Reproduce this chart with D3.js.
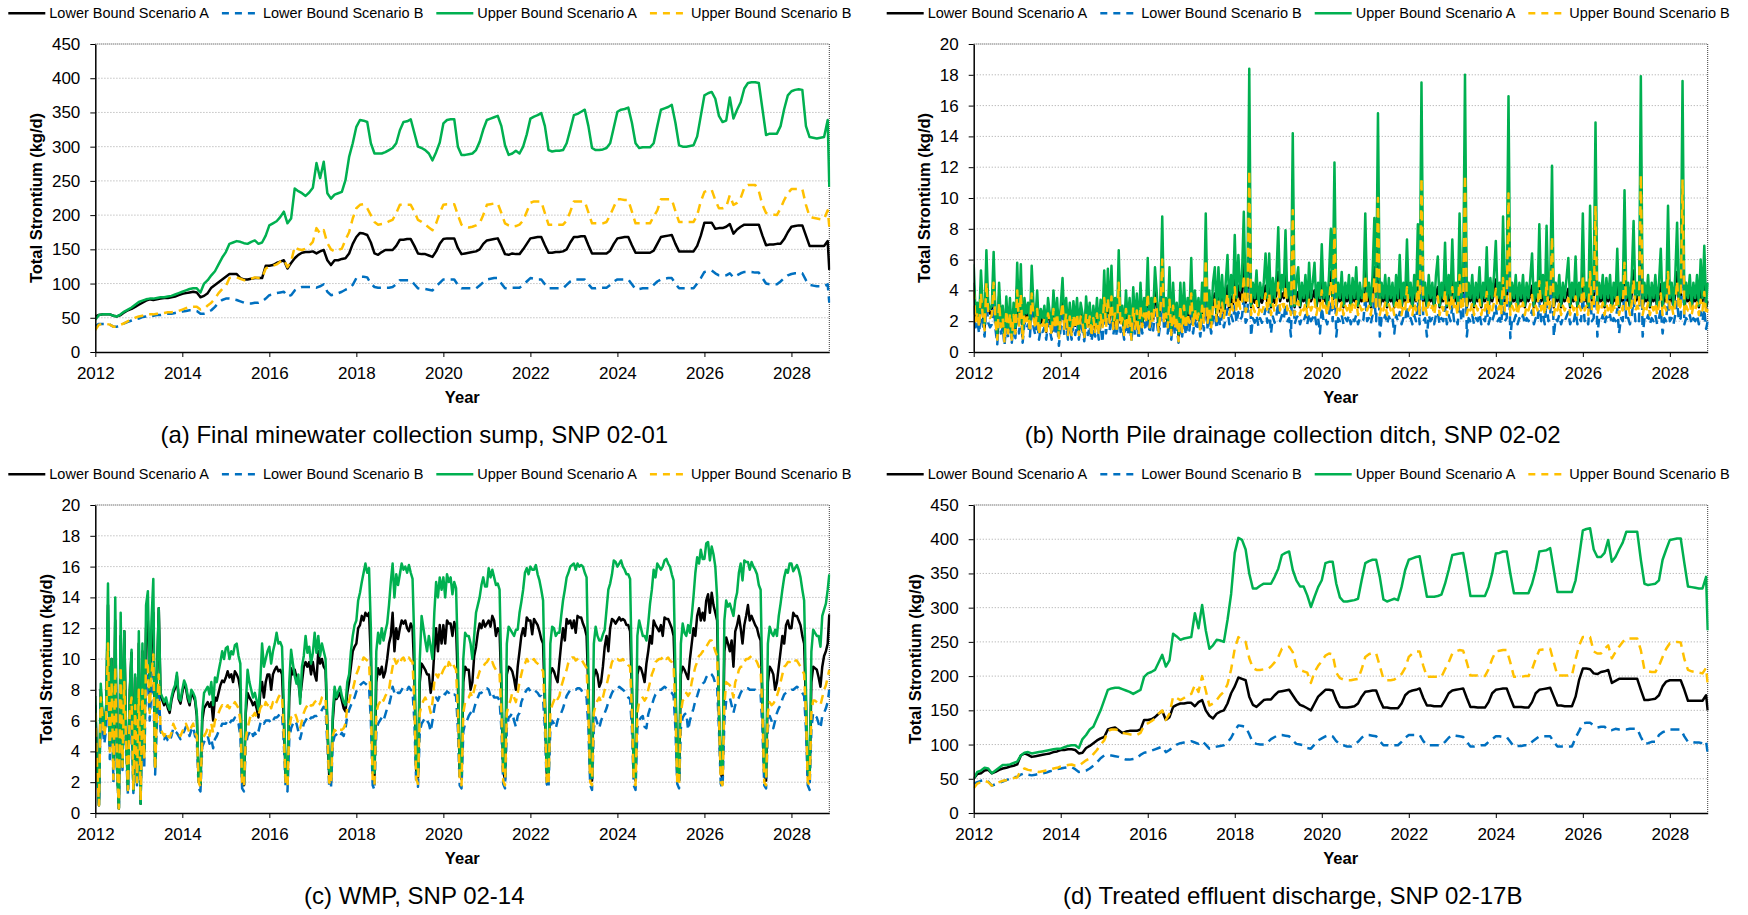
<!DOCTYPE html>
<html>
<head>
<meta charset="utf-8">
<script src="https://cdn.jsdelivr.net/npm/d3@7"></script>
<style>
  body { margin: 0; background: #ffffff; }
  svg { display: block; font-family: "Liberation Sans", Arial, Helvetica, sans-serif; }
</style>
</head>
<body>
<svg id="fig" width="1748" height="915"></svg>
<script>
// ---------------------------------------------------------------
// Series definitions (shared by all four panels)
// ---------------------------------------------------------------
const seriesNames  = ["Lower Bound Scenario A", "Lower Bound Scenario B", "Upper Bound Scenario A", "Upper Bound Scenario B"];
const seriesColors = ["#000000", "#0070C0", "#00B050", "#FFC000"];
const seriesDashed = [false, true, false, true];

const yearTicks  = [2012, 2014, 2016, 2018, 2020, 2022, 2024, 2026, 2028];
const loadTicks  = [0, 50, 100, 150, 200, 250, 300, 350, 400, 450];
const smallTicks = [0, 2, 4, 6, 8, 10, 12, 14, 16, 18, 20];
const yearStart = 2012;
const yearEnd = 2028.87;

const captions = [
  "(a) Final minewater collection sump, SNP 02-01",
  "(b) North Pile drainage collection ditch, SNP 02-02",
  "(c) WMP, SNP 02-14",
  "(d) Treated effluent discharge, SNP 02-17B"
];
const yTitle = "Total Strontium (kg/d)";
const xTitle = "Year";

// Sample times: monthly from Jan 2012 (203 months) or twice a month (405 steps), plus the final record
const monthlyTimes = d3.range(203).map(i => yearStart + i / 12).concat([yearEnd]);
const halfMonthTimes = d3.range(405).map(i => yearStart + i / 24).concat([yearEnd]);

// ---------------------------------------------------------------
// (a) Final minewater collection sump - monthly, kg/d (last value = final record)
// ---------------------------------------------------------------
const sumpLowerA = [
  52, 54, 55, 55, 55, 53, 52, 54, 58, 61, 63, 66,
  69, 72, 75, 77, 76, 77, 78, 79, 79, 80, 81, 83,
  85, 86, 87, 88, 87, 80, 82, 86, 94, 98, 102, 106,
  110, 114, 114, 114, 108, 106, 106, 107, 108, 108, 108, 126,
  126, 127, 130, 132, 134, 122, 130, 137, 142, 145, 146, 146,
  147, 144, 147, 149, 134, 127, 134, 134, 136, 137, 144, 158,
  168, 174, 173, 171, 160, 144, 142, 146, 149, 149, 149, 155,
  164, 164, 165, 165, 155, 144, 143, 143, 141, 139, 147, 158,
  165, 166, 166, 166, 152, 143, 144, 145, 146, 147, 150, 158,
  163, 164, 165, 166, 155, 143, 142, 144, 143, 143, 150, 158,
  166, 167, 168, 168, 156, 145, 145, 146, 146, 147, 150, 160,
  168, 168, 169, 169, 156, 144, 144, 144, 144, 144, 148, 158,
  166, 167, 168, 168, 156, 145, 145, 145, 145, 145, 148, 158,
  168, 169, 170, 171, 158, 147, 147, 147, 147, 147, 155, 170,
  189, 189, 189, 180, 181, 181, 183, 187, 173, 179, 183, 186,
  186, 186, 186, 186, 170, 156, 157, 157, 158, 158, 165, 175,
  183, 184, 185, 185, 170, 155, 155, 155, 155, 155, 162,
  120
];
const sumpLowerB = [
  38, 41, 41, 41, 40, 37, 37, 39, 42, 44, 46, 48,
  49, 51, 52, 53, 53, 54, 54, 55, 56, 56, 57, 58,
  59, 60, 61, 61, 60, 56, 56, 58, 61, 66, 72, 76,
  78, 78, 77, 76, 74, 72, 71, 71, 72, 72, 74, 78,
  83, 84, 86, 87, 88, 81, 83, 90, 93, 95, 95, 95,
  95, 94, 96, 99, 88, 83, 84, 86, 88, 91, 93, 98,
  108, 110, 110, 109, 100, 95, 94, 94, 94, 94, 95, 99,
  105, 105, 105, 105, 99, 93, 92, 92, 91, 90, 96, 101,
  106, 106, 106, 106, 98, 93, 93, 93, 93, 93, 97, 102,
  106, 107, 108, 108, 100, 93, 93, 94, 94, 94, 98, 103,
  108, 107, 106, 106, 99, 93, 93, 93, 93, 93, 98, 103,
  106, 106, 106, 106, 99, 93, 93, 94, 94, 94, 98, 103,
  106, 106, 106, 106, 99, 92, 92, 93, 93, 93, 98, 103,
  106, 107, 108, 108, 100, 93, 93, 93, 93, 93, 100, 108,
  117, 118, 119, 115, 112, 112, 112, 115, 109, 112, 115, 117,
  117, 117, 116, 116, 108, 100, 99, 99, 99, 103, 108, 112,
  114, 115, 115, 115, 105, 98, 97, 96, 96, 96, 99,
  72
];
const sumpUpperA = [
  47, 54, 55, 55, 55, 53, 52, 55, 59, 62, 65, 69,
  73, 75, 77, 78, 78, 79, 80, 80, 81, 82, 84, 86,
  88, 90, 92, 93, 93, 87, 100, 105, 112, 118, 128, 138,
  146, 158, 160, 162, 161, 159, 158, 161, 163, 158, 160, 170,
  185, 188, 191, 197, 205, 188, 195, 239, 235, 232, 228, 233,
  240, 276, 254, 278, 232, 224, 230, 232, 234, 251, 285, 305,
  329, 339, 338, 336, 305, 290, 290, 290, 292, 295, 298, 305,
  324, 336, 337, 340, 320, 300, 298, 295, 290, 280, 292, 306,
  334, 339, 340, 340, 300, 288, 288, 289, 290, 295, 307, 325,
  339, 341, 343, 345, 330, 302, 288, 290, 294, 290, 300, 318,
  341, 344, 346, 349, 330, 295, 293, 294, 294, 295, 305, 325,
  346, 348, 351, 354, 330, 298, 295, 295, 296, 298, 305, 328,
  351, 354, 355, 357, 335, 305, 298, 299, 299, 299, 305, 330,
  354, 356, 358, 361, 335, 302, 300, 300, 301, 302, 315, 345,
  375, 378, 380, 370, 345, 336, 338, 372, 341, 354, 365, 385,
  393, 394, 394, 393, 355, 317, 319, 319, 319, 330, 355, 375,
  381, 383, 384, 383, 330, 314, 313, 312, 313, 314, 339,
  241
];
const sumpUpperB = [
  32, 40, 41, 41, 40, 37, 37, 40, 42, 45, 47, 50,
  52, 53, 54, 55, 55, 56, 56, 57, 58, 58, 59, 60,
  62, 64, 66, 66, 66, 62, 63, 68, 72, 78, 86, 92,
  96, 108, 109, 109, 107, 105, 105, 107, 109, 108, 108, 122,
  125, 126, 128, 132, 135, 124, 132, 154, 150, 149, 151, 155,
  161, 181, 173, 178, 159, 150, 147, 149, 151, 164, 175, 195,
  210, 215, 216, 210, 200, 190, 186, 187, 188, 191, 193, 203,
  215, 215, 215, 215, 205, 193, 190, 186, 182, 178, 188, 203,
  215, 216, 216, 216, 200, 186, 183, 182, 183, 185, 188, 200,
  215, 216, 217, 217, 203, 188, 185, 183, 184, 186, 192, 205,
  218, 220, 220, 220, 203, 186, 186, 186, 186, 186, 192, 205,
  220, 220, 220, 220, 204, 188, 188, 188, 188, 190, 200, 212,
  223, 223, 222, 222, 205, 188, 188, 188, 188, 188, 198, 207,
  223, 223, 223, 223, 206, 190, 190, 190, 190, 190, 200, 220,
  234, 236, 237, 222, 210, 210, 212, 229, 215, 218, 225, 240,
  244, 244, 244, 235, 215, 203, 202, 201, 200, 210, 222, 232,
  238, 238, 238, 238, 215, 198, 196, 195, 194, 194, 207,
  183
];

// ---------------------------------------------------------------
// (b) North Pile drainage collection ditch - twice monthly, kg/d
// ---------------------------------------------------------------
const pileLowerA = [
  4.5, 2.2, 2.8, 1.8, 4.2, 2.5, 1.5, 5.0, 2.8, 2.5, 2.6, 5.0, 2.2, 1.0, 3.6, 1.8, 2.5, 0.8, 3.0, 1.3, 2.8, 0.9, 2.7, 1.4,
  4.3, 1.8, 4.2, 1.0, 2.8, 2.2, 2.7, 1.5, 4.2, 2.5, 1.8, 3.2, 1.3, 2.3, 1.9, 2.5, 1.3, 2.8, 2.1, 1.3, 3.2, 1.7, 2.8, 1.0,
  2.5, 3.6, 1.7, 2.8, 1.3, 2.6, 1.3, 2.7, 1.7, 2.8, 1.3, 2.6, 2.1, 1.0, 2.8, 1.7, 2.6, 1.2, 2.5, 1.5, 2.8, 1.3, 2.7, 1.7,
  3.8, 1.8, 3.9, 2.1, 4.0, 1.7, 2.8, 1.5, 4.6, 1.9, 2.5, 1.3, 3.1, 1.7, 2.8, 1.0, 3.2, 1.7, 3.0, 1.3, 3.4, 1.8, 2.8, 2.1,
  4.2, 1.8, 2.8, 2.1, 3.9, 3.0, 1.5, 2.8, 5.8, 2.1, 2.8, 1.8, 3.8, 1.3, 3.3, 1.7, 2.6, 1.0, 3.3, 1.5, 3.4, 1.7, 2.8, 2.1,
  4.2, 1.8, 3.1, 2.1, 2.8, 1.5, 3.4, 2.1, 5.8, 2.1, 3.1, 1.8, 3.4, 3.8, 2.3, 3.8, 2.6, 3.6, 2.5, 3.3, 4.3, 2.8, 3.6, 3.1,
  5.0, 3.2, 4.3, 3.4, 3.8, 5.8, 3.2, 3.6, 10.0, 2.9, 3.6, 3.2, 3.9, 2.9, 3.6, 3.2, 3.6, 4.3, 3.2, 4.3, 2.9, 3.7, 3.2, 3.8,
  5.2, 3.3, 3.8, 3.5, 5.0, 3.3, 3.6, 2.9, 8.0, 2.9, 3.6, 3.9, 2.9, 3.6, 3.3, 3.8, 2.9, 4.0, 3.3, 3.6, 4.0, 2.9, 3.6, 3.3,
  4.6, 3.3, 3.6, 2.9, 3.8, 5.2, 3.3, 7.0, 2.9, 3.6, 3.3, 3.8, 2.9, 3.6, 3.3, 3.8, 2.9, 3.7, 3.3, 3.9, 2.9, 3.6, 3.3, 3.4,
  5.8, 3.3, 3.6, 2.9, 3.8, 5.5, 3.3, 8.5, 2.9, 3.6, 3.3, 3.8, 2.9, 3.7, 3.3, 3.6, 2.9, 3.8, 3.3, 4.3, 2.9, 3.6, 3.3, 4.8,
  3.3, 3.6, 2.9, 3.8, 3.3, 5.3, 2.9, 9.5, 3.3, 3.6, 2.9, 3.8, 3.3, 3.6, 2.9, 3.8, 4.2, 2.9, 3.6, 3.3, 4.6, 2.9, 3.8, 3.3,
  4.8, 3.3, 3.6, 2.9, 5.6, 3.3, 3.6, 10.0, 2.9, 3.6, 3.3, 3.8, 2.9, 3.6, 3.3, 4.0, 2.9, 3.6, 3.3, 4.5, 2.9, 3.7, 3.3, 3.8,
  4.7, 3.3, 3.6, 2.9, 5.5, 3.3, 3.6, 9.0, 2.9, 3.6, 3.3, 3.8, 2.9, 3.6, 3.3, 3.8, 2.9, 3.6, 3.3, 3.7, 4.3, 2.9, 3.6, 3.3,
  5.2, 3.3, 3.8, 2.9, 5.2, 3.3, 3.6, 7.0, 2.9, 3.6, 3.3, 3.8, 2.9, 3.6, 3.3, 3.7, 4.1, 2.9, 3.6, 3.3, 4.2, 2.9, 3.6, 3.3,
  5.6, 3.3, 3.6, 2.9, 5.8, 3.3, 3.6, 8.5, 2.9, 3.6, 3.3, 3.8, 2.9, 3.7, 3.3, 3.8, 2.9, 3.6, 3.3, 4.4, 2.9, 3.6, 3.3, 6.3,
  3.3, 3.6, 2.9, 3.8, 5.3, 3.3, 3.6, 3.3, 10.0, 2.9, 3.6, 3.3, 3.8, 2.9, 3.6, 3.3, 3.8, 2.9, 3.6, 4.4, 2.9, 3.6, 3.3, 5.8,
  3.3, 3.6, 2.9, 3.8, 5.2, 3.3, 3.6, 9.8, 2.9, 3.6, 3.3, 3.8, 2.9, 3.6, 3.3, 3.8, 2.9, 4.0, 3.3, 4.5, 2.9,
  3.3
];
const pileLowerB = [
  3.0, 1.6, 2.0, 1.2, 2.8, 1.8, 1.0, 3.3, 1.9, 1.6, 1.8, 3.3, 1.5, 0.5, 2.4, 1.2, 1.6, 0.4, 2.0, 0.9, 1.9, 0.6, 1.8, 0.9,
  3.0, 1.2, 2.8, 0.6, 1.9, 1.5, 1.8, 1.0, 2.8, 1.6, 1.1, 2.1, 0.8, 1.5, 1.3, 1.6, 0.8, 1.9, 1.4, 0.8, 2.1, 1.1, 1.9, 0.4,
  1.6, 2.4, 1.1, 1.9, 0.8, 1.7, 0.8, 1.8, 1.1, 1.9, 0.8, 1.7, 1.4, 0.7, 1.9, 1.1, 1.7, 0.7, 1.6, 1.0, 1.9, 0.8, 1.8, 0.6,
  2.6, 1.2, 2.6, 1.4, 2.7, 1.1, 1.9, 1.0, 3.4, 1.3, 1.6, 0.8, 2.1, 1.1, 1.9, 0.7, 2.2, 1.1, 2.0, 0.8, 2.3, 1.2, 1.9, 1.4,
  2.8, 1.2, 1.9, 1.4, 2.6, 2.0, 1.0, 1.9, 4.5, 1.4, 1.9, 1.2, 2.5, 0.8, 2.2, 1.1, 1.7, 0.6, 2.2, 1.0, 2.2, 1.1, 1.9, 1.4,
  2.8, 1.2, 2.1, 1.4, 1.9, 1.0, 2.2, 1.4, 4.5, 1.4, 2.1, 1.2, 2.2, 2.5, 1.5, 2.5, 1.7, 2.4, 1.6, 2.2, 2.8, 1.8, 2.4, 2.0,
  3.0, 1.9, 2.6, 2.1, 2.3, 3.6, 1.9, 2.2, 8.0, 1.0, 2.2, 1.9, 2.4, 1.7, 2.2, 1.9, 2.2, 2.8, 1.9, 2.8, 1.2, 2.3, 1.9, 2.4,
  3.2, 2.0, 2.4, 2.1, 3.1, 2.0, 2.2, 1.0, 6.5, 1.8, 2.2, 2.4, 1.8, 2.2, 2.0, 2.4, 1.8, 2.5, 2.0, 2.2, 2.5, 1.8, 2.2, 1.2,
  2.9, 2.0, 2.2, 1.8, 2.4, 3.3, 2.0, 5.8, 1.0, 2.2, 2.0, 2.4, 1.8, 2.2, 2.0, 2.4, 1.8, 2.3, 2.0, 2.4, 1.8, 2.2, 2.0, 2.1,
  3.6, 2.0, 2.2, 1.8, 2.4, 3.4, 2.0, 7.0, 1.0, 2.2, 2.0, 2.4, 1.8, 2.3, 2.0, 2.2, 1.2, 2.4, 2.0, 2.6, 1.8, 2.2, 2.0, 3.0,
  2.0, 2.2, 1.8, 2.4, 2.0, 3.3, 1.8, 8.0, 2.0, 2.2, 1.0, 2.4, 2.0, 2.2, 1.8, 2.4, 2.6, 1.8, 2.2, 2.0, 2.9, 1.8, 2.4, 2.0,
  3.0, 2.0, 2.2, 1.8, 3.6, 2.0, 2.2, 8.0, 1.0, 2.2, 2.0, 2.4, 1.8, 2.2, 2.0, 2.5, 1.8, 2.2, 2.0, 2.8, 1.8, 2.3, 2.0, 2.4,
  3.0, 2.0, 2.2, 1.8, 3.5, 2.0, 2.2, 7.5, 0.9, 2.2, 2.0, 2.4, 1.8, 2.2, 2.0, 2.4, 1.8, 2.2, 2.0, 2.3, 2.7, 1.8, 2.2, 2.0,
  3.3, 2.0, 2.4, 1.8, 3.3, 2.0, 2.2, 5.5, 1.0, 2.2, 2.0, 2.4, 1.8, 2.2, 2.0, 2.3, 2.6, 1.8, 2.2, 2.0, 2.6, 1.8, 2.2, 2.0,
  3.6, 2.0, 2.2, 1.8, 3.8, 2.0, 2.2, 7.0, 1.0, 2.2, 2.0, 2.4, 1.8, 2.3, 2.0, 2.4, 1.8, 2.2, 2.0, 2.8, 1.2, 2.2, 2.0, 4.2,
  2.0, 2.2, 1.8, 2.4, 3.4, 2.0, 2.2, 2.0, 8.0, 1.0, 2.2, 2.0, 2.4, 1.8, 2.2, 2.0, 2.4, 1.8, 2.2, 2.8, 1.2, 2.2, 2.0, 3.8,
  2.0, 2.2, 1.8, 2.4, 3.3, 2.0, 2.2, 7.8, 1.8, 2.2, 2.0, 2.4, 1.8, 2.2, 2.0, 2.4, 1.8, 2.6, 2.0, 2.8, 1.5,
  2.0
];
const pileUpperA = [
  5.7, 2.5, 3.2, 2.0, 5.3, 3.0, 1.8, 6.6, 3.2, 2.8, 3.0, 6.5, 2.5, 1.2, 4.5, 2.0, 3.0, 1.0, 3.6, 1.5, 3.5, 1.0, 3.2, 1.6,
  5.8, 2.0, 5.7, 1.2, 3.5, 2.5, 3.2, 1.8, 5.6, 3.0, 2.0, 4.0, 1.5, 2.8, 2.2, 3.0, 1.5, 3.5, 2.5, 1.5, 4.0, 2.0, 3.5, 1.2,
  3.0, 4.8, 2.0, 3.5, 1.5, 3.2, 1.5, 3.3, 2.0, 3.5, 1.5, 3.2, 2.5, 1.2, 3.6, 2.0, 3.2, 1.4, 3.0, 1.8, 3.5, 1.5, 3.4, 2.0,
  5.3, 2.0, 5.4, 2.5, 5.6, 2.0, 3.5, 1.8, 6.6, 2.2, 3.0, 1.5, 4.0, 2.0, 3.5, 1.2, 4.2, 2.0, 3.8, 1.5, 4.5, 2.0, 3.5, 2.5,
  6.1, 2.0, 3.5, 2.5, 5.5, 3.8, 1.8, 3.5, 8.8, 2.5, 3.5, 2.0, 5.5, 1.5, 4.5, 2.0, 3.2, 1.2, 4.5, 1.8, 4.5, 2.0, 3.5, 2.5,
  6.1, 2.0, 4.0, 2.5, 3.5, 1.8, 4.5, 2.5, 9.0, 2.5, 4.0, 2.0, 4.5, 5.5, 2.5, 5.5, 3.0, 5.0, 2.8, 4.5, 6.3, 3.0, 5.0, 3.5,
  7.6, 3.5, 6.3, 4.0, 5.0, 9.1, 3.5, 4.5, 18.4, 3.0, 4.5, 3.5, 5.3, 3.0, 4.5, 3.5, 4.5, 6.4, 3.5, 6.4, 3.0, 4.8, 3.5, 5.0,
  8.1, 3.5, 5.0, 4.0, 7.9, 3.5, 4.5, 3.0, 14.2, 3.0, 4.5, 5.5, 3.0, 4.5, 3.5, 5.0, 3.0, 5.8, 3.5, 4.5, 5.8, 3.0, 4.5, 3.5,
  7.0, 3.5, 4.5, 3.0, 5.0, 8.0, 3.5, 12.3, 3.0, 4.5, 3.5, 5.2, 3.0, 4.5, 3.5, 5.0, 3.0, 4.8, 3.5, 5.5, 3.0, 4.5, 3.5, 4.0,
  9.0, 3.5, 4.5, 3.0, 5.0, 8.7, 3.5, 15.5, 3.0, 4.5, 3.5, 5.0, 3.0, 4.8, 3.5, 4.5, 3.0, 5.0, 3.5, 6.3, 3.0, 4.5, 3.5, 7.3,
  3.5, 4.5, 3.0, 5.0, 3.5, 8.3, 3.0, 17.5, 3.5, 4.5, 3.0, 5.0, 3.5, 4.5, 3.0, 5.0, 6.2, 3.0, 4.5, 3.5, 7.1, 3.0, 5.0, 3.5,
  7.3, 3.5, 4.5, 3.0, 9.0, 3.5, 4.5, 18.0, 3.0, 4.5, 3.5, 5.0, 3.0, 4.5, 3.5, 5.5, 3.0, 4.5, 3.5, 6.8, 3.0, 4.8, 3.5, 5.0,
  7.2, 3.5, 4.5, 3.0, 8.8, 3.5, 4.5, 16.6, 3.0, 4.5, 3.5, 5.0, 3.0, 4.5, 3.5, 5.0, 3.0, 4.5, 3.5, 4.8, 6.4, 3.0, 4.5, 3.5,
  8.3, 3.5, 5.0, 3.0, 8.2, 3.5, 4.5, 12.1, 3.0, 4.5, 3.5, 5.0, 3.0, 4.5, 3.5, 4.8, 6.1, 3.0, 4.5, 3.5, 6.2, 3.0, 4.5, 3.5,
  9.0, 3.5, 4.5, 3.0, 9.5, 3.5, 4.5, 14.9, 3.0, 4.5, 3.5, 5.0, 3.0, 4.8, 3.5, 5.0, 3.0, 4.5, 3.5, 6.7, 3.0, 4.5, 3.5, 10.5,
  3.5, 4.5, 3.0, 5.0, 8.5, 3.5, 4.5, 3.5, 17.9, 3.0, 4.5, 3.5, 5.0, 3.0, 4.5, 3.5, 5.0, 3.0, 4.5, 6.7, 3.0, 4.5, 3.5, 9.5,
  3.5, 4.5, 3.0, 5.0, 8.4, 3.5, 4.5, 17.6, 3.0, 4.5, 3.5, 5.0, 3.0, 4.5, 3.5, 5.0, 3.0, 6.0, 3.5, 6.9, 3.0,
  4.5
];
const pileUpperB = [
  4.0, 2.0, 2.6, 1.6, 3.8, 2.3, 1.4, 4.5, 2.6, 2.2, 2.4, 4.5, 2.0, 0.8, 3.2, 1.6, 2.2, 0.6, 2.7, 1.2, 2.5, 0.8, 2.4, 1.2,
  4.0, 1.6, 3.8, 0.8, 2.5, 2.0, 2.4, 1.3, 3.8, 2.2, 1.5, 2.8, 1.1, 2.0, 1.7, 2.2, 1.1, 2.5, 1.9, 1.1, 2.8, 1.5, 2.5, 0.9,
  2.2, 3.2, 1.5, 2.5, 1.1, 2.3, 1.1, 2.4, 1.5, 2.5, 1.1, 2.3, 1.9, 0.9, 2.5, 1.5, 2.3, 1.0, 2.2, 1.3, 2.5, 1.1, 2.4, 1.5,
  3.5, 1.6, 3.5, 1.9, 3.6, 1.5, 2.5, 1.3, 4.5, 1.7, 2.2, 1.1, 2.8, 1.5, 2.5, 0.8, 2.9, 1.5, 2.7, 1.1, 3.0, 1.6, 2.5, 1.9,
  3.8, 1.6, 2.5, 1.9, 3.5, 2.7, 1.3, 2.5, 6.0, 1.9, 2.5, 1.6, 3.4, 1.1, 3.0, 1.5, 2.3, 0.7, 3.0, 1.3, 3.0, 1.5, 2.5, 1.9,
  3.8, 1.6, 2.8, 1.9, 2.5, 1.3, 3.0, 1.9, 6.0, 1.9, 2.8, 1.6, 3.0, 3.4, 2.0, 3.4, 2.3, 3.2, 2.2, 3.0, 3.8, 2.4, 3.2, 2.7,
  4.2, 2.6, 3.6, 2.8, 3.2, 5.0, 2.6, 3.0, 11.8, 2.4, 3.0, 2.6, 3.3, 2.4, 3.0, 2.6, 3.0, 3.8, 2.6, 3.8, 2.4, 3.1, 2.6, 3.2,
  4.5, 2.7, 3.2, 2.9, 4.3, 2.7, 3.0, 2.4, 9.2, 2.4, 3.0, 3.3, 2.4, 3.0, 2.7, 3.2, 2.4, 3.4, 2.7, 3.0, 3.4, 2.4, 3.0, 2.7,
  4.0, 2.7, 3.0, 2.4, 3.2, 4.6, 2.7, 8.0, 2.4, 3.0, 2.7, 3.2, 2.4, 3.0, 2.7, 3.2, 2.4, 3.1, 2.7, 3.3, 2.4, 3.0, 2.7, 2.8,
  5.0, 2.7, 3.0, 2.4, 3.2, 4.8, 2.7, 10.0, 2.4, 3.0, 2.7, 3.2, 2.4, 3.1, 2.7, 3.0, 2.4, 3.2, 2.7, 3.6, 2.4, 3.0, 2.7, 4.2,
  2.7, 3.0, 2.4, 3.2, 2.7, 4.6, 2.4, 11.3, 2.7, 3.0, 2.4, 3.2, 2.7, 3.0, 2.4, 3.2, 3.6, 2.4, 3.0, 2.7, 4.0, 2.4, 3.2, 2.7,
  4.2, 2.7, 3.0, 2.4, 5.0, 2.7, 3.0, 11.5, 2.4, 3.0, 2.7, 3.2, 2.4, 3.0, 2.7, 3.4, 2.4, 3.0, 2.7, 3.9, 2.4, 3.1, 2.7, 3.2,
  4.1, 2.7, 3.0, 2.4, 4.8, 2.7, 3.0, 10.3, 2.4, 3.0, 2.7, 3.2, 2.4, 3.0, 2.7, 3.2, 2.4, 3.0, 2.7, 3.1, 3.7, 2.4, 3.0, 2.7,
  4.6, 2.7, 3.2, 2.4, 4.6, 2.7, 3.0, 7.5, 2.4, 3.0, 2.7, 3.2, 2.4, 3.0, 2.7, 3.1, 3.5, 2.4, 3.0, 2.7, 3.6, 2.4, 3.0, 2.7,
  5.0, 2.7, 3.0, 2.4, 5.2, 2.7, 3.0, 9.5, 2.4, 3.0, 2.7, 3.2, 2.4, 3.1, 2.7, 3.2, 2.4, 3.0, 2.7, 3.8, 2.4, 3.0, 2.7, 5.8,
  2.7, 3.0, 2.4, 3.2, 4.7, 2.7, 3.0, 2.7, 11.5, 2.4, 3.0, 2.7, 3.2, 2.4, 3.0, 2.7, 3.2, 2.4, 3.0, 3.8, 2.4, 3.0, 2.7, 5.2,
  2.7, 3.0, 2.4, 3.2, 4.6, 2.7, 3.0, 11.2, 2.4, 3.0, 2.7, 3.2, 2.4, 3.0, 2.7, 3.2, 2.4, 3.4, 2.7, 3.9, 2.4,
  2.8
];

// ---------------------------------------------------------------
// (c) WMP - twice monthly, kg/d
// ---------------------------------------------------------------
const wmpLowerA = [
  7.0, 3.0, 0.5, 8.0, 6.2, 5.3, 6.8, 13.5, 4.4, 10.0, 3.0, 12.5, 3.0, 0.3, 11.5, 3.0, 11.8, 5.0, 1.5, 7.8, 10.4, 1.5, 8.8, 2.0,
  11.0, 0.6, 10.5, 4.0, 12.0, 12.5, 7.8, 11.5, 13.0, 3.0, 8.8, 13.3, 7.6, 7.3, 7.0, 7.3, 6.8, 6.5, 7.3, 7.8, 8.1, 8.9, 7.4, 7.1,
  7.8, 8.4, 8.1, 7.4, 7.0, 7.8, 7.6, 7.3, 6.3, 2.1, 1.8, 6.0, 6.8, 7.0, 7.2, 6.9, 7.2, 6.0, 7.5, 7.3, 7.8, 8.3, 8.6, 8.5,
  8.8, 9.2, 8.8, 9.0, 8.5, 9.2, 9.0, 8.7, 8.0, 2.0, 1.8, 6.5, 7.8, 7.5, 7.3, 7.0, 7.2, 6.8, 6.2, 7.8, 8.5, 7.5, 8.5, 9.0,
  9.0, 8.0, 9.0, 9.3, 9.5, 9.2, 9.3, 9.0, 6.0, 2.3, 2.0, 7.5, 9.4, 9.0, 9.3, 8.8, 8.5, 7.5, 8.5, 9.5, 9.8, 9.5, 9.8, 9.0,
  9.8, 9.0, 8.6, 10.5, 9.7, 10.0, 9.5, 9.3, 5.5, 2.5, 2.0, 6.0, 7.6, 7.4, 7.6, 7.8, 7.3, 6.8, 6.6, 7.8, 8.5, 9.5, 10.5, 10.8,
  11.0, 12.0, 12.2, 12.8, 12.5, 13.0, 12.8, 13.0, 10.0, 2.8, 2.3, 8.5, 9.4, 9.0, 9.5, 8.8, 9.2, 10.0, 11.0, 11.5, 13.0, 10.5, 12.0, 11.3,
  12.0, 12.5, 12.3, 12.5, 12.0, 11.8, 12.3, 12.0, 9.0, 2.8, 2.3, 8.5, 9.7, 9.5, 9.3, 9.0, 9.0, 7.8, 8.5, 10.5, 12.0, 10.5, 12.2, 11.0,
  12.2, 11.0, 12.5, 12.3, 12.3, 11.5, 12.4, 12.0, 8.5, 2.6, 2.2, 8.5, 9.5, 9.3, 9.3, 8.0, 8.5, 10.2, 10.8, 11.7, 12.3, 12.0, 12.5, 12.1,
  12.3, 12.5, 12.1, 12.8, 12.5, 11.5, 12.0, 11.8, 8.0, 2.7, 2.2, 9.0, 9.5, 9.4, 9.2, 8.7, 8.0, 9.5, 10.5, 11.5, 12.0, 11.5, 12.7, 12.5,
  12.5, 11.6, 12.6, 12.4, 12.2, 11.8, 11.3, 11.0, 7.0, 2.6, 2.2, 9.0, 9.4, 9.2, 8.8, 8.5, 9.8, 11.0, 12.0, 11.2, 12.6, 12.3, 12.5, 12.0,
  12.5, 11.7, 12.8, 12.7, 12.7, 12.3, 12.0, 11.5, 8.0, 2.5, 2.1, 8.8, 9.3, 9.0, 8.2, 8.5, 9.5, 10.8, 11.5, 10.5, 12.0, 12.6, 12.5, 12.3,
  12.5, 12.7, 12.5, 12.6, 12.5, 12.2, 12.2, 11.8, 8.0, 2.5, 2.1, 9.0, 9.5, 9.4, 9.0, 8.5, 9.7, 10.5, 11.5, 11.0, 12.5, 12.2, 12.0, 11.8,
  12.2, 11.5, 12.7, 12.6, 12.6, 12.3, 12.0, 11.5, 8.0, 2.5, 2.1, 9.0, 9.5, 9.3, 9.0, 8.7, 10.0, 11.0, 12.0, 11.5, 12.8, 13.3, 12.5, 13.0,
  12.5, 13.8, 14.2, 13.0, 14.3, 13.5, 13.0, 12.5, 6.5, 2.6, 2.2, 10.5, 11.4, 11.0, 10.5, 11.2, 9.5, 11.8, 12.2, 12.8, 12.0, 11.0, 12.2, 12.8,
  13.5, 12.5, 12.8, 12.5, 12.2, 12.0, 11.5, 11.2, 7.0, 2.5, 2.1, 8.5, 9.5, 9.3, 9.0, 8.0, 8.5, 9.5, 10.5, 11.5, 11.0, 12.2, 12.5, 12.0,
  12.0, 13.0, 12.8, 12.8, 12.5, 12.2, 11.5, 11.0, 7.0, 2.5, 2.0, 8.5, 9.5, 9.4, 9.3, 8.8, 8.2, 9.5, 10.2, 10.5, 11.0,
  12.9
];
const wmpLowerB = [
  6.0, 3.0, 0.5, 7.0, 5.5, 4.5, 5.5, 10.0, 3.5, 7.5, 2.0, 8.5, 2.8, 0.3, 8.5, 2.8, 7.5, 4.0, 1.2, 5.5, 6.5, 1.3, 6.0, 1.8,
  7.0, 0.7, 7.0, 3.0, 9.0, 8.8, 6.0, 8.0, 9.0, 2.5, 5.8, 8.0, 5.3, 5.0, 4.8, 5.0, 4.7, 4.6, 5.0, 5.5, 5.3, 5.2, 5.0, 4.8,
  5.1, 5.3, 5.6, 5.3, 5.0, 5.4, 5.6, 5.0, 4.8, 1.6, 1.4, 4.3, 4.6, 4.8, 5.0, 4.5, 4.8, 4.2, 4.8, 5.0, 5.3, 5.5, 5.8, 5.8,
  5.8, 6.0, 5.8, 6.0, 6.0, 6.2, 6.0, 5.8, 5.0, 1.6, 1.4, 4.3, 5.0, 5.2, 5.4, 5.0, 5.2, 5.0, 5.3, 5.8, 6.0, 5.8, 6.0, 6.0,
  6.0, 5.8, 6.0, 6.2, 6.2, 6.3, 6.5, 6.4, 4.5, 1.6, 1.4, 4.8, 5.5, 5.8, 6.0, 5.8, 5.3, 4.8, 5.3, 5.8, 6.0, 6.2, 6.0, 6.2,
  6.2, 6.3, 6.3, 6.4, 6.5, 6.7, 6.9, 6.8, 4.5, 1.8, 1.6, 4.5, 5.0, 5.1, 5.2, 5.0, 5.2, 5.0, 5.5, 6.3, 6.7, 7.0, 7.3, 7.5,
  7.9, 8.1, 8.3, 8.4, 8.5, 8.4, 8.3, 8.2, 6.0, 1.8, 1.5, 5.3, 5.8, 6.0, 6.2, 6.0, 6.4, 6.8, 7.0, 7.5, 8.2, 7.8, 8.0, 7.8,
  7.8, 8.0, 8.2, 8.1, 8.0, 8.2, 8.0, 7.9, 6.0, 2.0, 1.7, 5.3, 5.8, 6.0, 6.2, 6.0, 5.8, 5.3, 6.0, 6.8, 7.5, 7.3, 7.6, 7.8,
  7.8, 7.7, 7.9, 7.8, 7.9, 7.7, 7.7, 7.6, 5.5, 1.8, 1.6, 5.3, 5.8, 6.0, 6.3, 6.5, 6.3, 6.8, 7.2, 7.5, 7.8, 7.8, 8.0, 8.1,
  8.1, 8.0, 7.6, 7.8, 7.5, 7.5, 7.5, 7.3, 5.5, 1.9, 1.6, 5.5, 6.2, 6.3, 6.5, 6.0, 5.6, 6.3, 6.5, 7.2, 7.5, 7.8, 8.0, 8.1,
  7.9, 8.0, 8.0, 7.9, 7.8, 7.6, 7.6, 7.4, 5.5, 1.9, 1.6, 5.5, 6.0, 5.8, 5.5, 6.0, 6.3, 6.5, 6.8, 7.2, 7.6, 7.8, 8.0, 8.0,
  8.0, 8.0, 8.1, 8.1, 8.0, 7.8, 7.7, 7.5, 5.5, 1.8, 1.5, 5.5, 6.2, 5.8, 5.5, 6.0, 6.3, 6.5, 6.8, 7.2, 7.5, 7.8, 8.0, 8.0,
  8.0, 8.2, 8.1, 8.0, 7.9, 7.7, 7.5, 7.4, 5.5, 1.8, 1.5, 5.5, 6.0, 6.2, 6.3, 5.6, 5.5, 6.4, 6.8, 7.0, 7.4, 7.7, 7.8, 8.0,
  8.0, 8.1, 8.2, 8.1, 8.0, 7.9, 7.8, 7.6, 5.5, 1.9, 1.6, 5.5, 6.2, 6.4, 6.5, 5.4, 6.0, 6.4, 6.8, 7.3, 7.6, 8.0, 8.2, 8.4,
  8.5, 8.8, 9.0, 9.1, 9.0, 8.8, 8.4, 8.2, 5.5, 1.9, 1.6, 6.0, 7.3, 7.4, 7.5, 7.0, 6.5, 7.0, 7.3, 7.5, 7.8, 8.0, 8.0, 8.1,
  8.1, 8.0, 8.0, 8.0, 8.0, 7.9, 7.8, 7.7, 5.5, 1.8, 1.6, 5.5, 6.3, 6.0, 5.5, 6.0, 6.5, 6.8, 7.0, 7.4, 7.7, 7.8, 7.9, 7.9,
  8.0, 8.0, 8.1, 8.2, 8.1, 8.0, 7.8, 7.6, 5.5, 1.8, 1.5, 5.5, 6.5, 6.3, 6.2, 5.8, 5.5, 6.3, 6.5, 6.8, 7.2,
  8.0
];
const wmpUpperA = [
  7.6, 3.0, 0.5, 8.4, 6.5, 5.5, 7.0, 14.9, 4.5, 10.0, 3.0, 14.0, 3.0, 0.3, 13.0, 3.0, 11.8, 5.0, 1.5, 8.0, 10.6, 1.5, 9.0, 2.0,
  11.8, 0.6, 11.0, 4.0, 13.5, 14.4, 8.0, 12.5, 15.2, 3.0, 9.0, 13.3, 7.8, 7.5, 7.2, 7.5, 7.0, 6.7, 7.5, 8.0, 8.3, 9.1, 7.5, 7.3,
  8.0, 8.6, 8.3, 7.6, 7.2, 8.0, 7.8, 7.5, 6.5, 2.2, 1.9, 6.5, 7.8, 8.0, 8.2, 7.7, 8.5, 7.0, 8.8, 8.5, 9.2, 9.8, 10.5, 10.0,
  10.7, 10.8, 10.0, 10.5, 10.3, 10.9, 11.0, 10.2, 9.7, 2.3, 2.0, 7.0, 9.3, 8.5, 8.0, 7.5, 7.8, 7.3, 6.7, 8.5, 11.0, 9.5, 10.0, 10.5,
  10.8, 9.7, 10.5, 11.0, 11.7, 11.0, 11.1, 10.8, 7.0, 2.5, 2.2, 8.5, 10.6, 9.7, 8.9, 8.4, 9.0, 7.1, 9.5, 10.2, 11.5, 10.4, 10.8, 9.7,
  10.4, 11.7, 10.4, 11.5, 10.2, 11.0, 10.5, 10.0, 6.0, 2.8, 2.3, 6.5, 8.2, 7.5, 7.9, 8.2, 7.6, 7.2, 7.0, 8.5, 9.0, 10.5, 11.5, 12.2,
  12.5, 13.8, 14.3, 15.0, 15.6, 16.2, 15.6, 15.9, 12.0, 3.0, 2.6, 10.5, 11.7, 11.0, 12.0, 11.2, 11.8, 12.3, 13.5, 15.0, 16.2, 14.0, 15.5, 14.8,
  15.5, 16.2, 15.8, 16.0, 15.6, 16.1, 15.6, 15.2, 11.0, 3.0, 2.5, 10.0, 12.8, 12.0, 11.2, 10.5, 11.5, 10.8, 10.0, 13.0, 15.0, 14.0, 15.3, 14.5,
  15.3, 14.0, 15.5, 15.0, 15.3, 14.2, 15.0, 14.6, 10.0, 3.0, 2.5, 10.0, 11.7, 11.5, 11.5, 11.0, 10.0, 11.5, 13.0, 13.5, 14.0, 14.8, 15.3, 14.7,
  14.7, 15.9, 15.3, 15.8, 15.3, 14.8, 14.9, 14.5, 9.0, 3.0, 2.5, 11.0, 12.1, 11.9, 11.7, 11.5, 11.9, 11.9, 13.0, 13.7, 14.5, 15.6, 15.9, 15.5,
  16.0, 15.8, 15.8, 16.1, 15.5, 15.1, 14.5, 13.8, 8.0, 2.8, 2.4, 11.0, 12.1, 12.0, 11.5, 11.7, 11.7, 12.8, 13.8, 14.5, 15.3, 15.6, 16.0, 16.1,
  16.2, 15.8, 16.2, 16.0, 16.1, 16.0, 15.6, 15.3, 9.0, 2.7, 2.3, 11.0, 12.1, 11.5, 11.2, 11.2, 11.6, 11.9, 13.2, 14.5, 14.9, 15.5, 16.4, 16.3,
  16.0, 16.2, 16.4, 16.0, 15.8, 15.5, 15.5, 15.2, 9.0, 2.6, 2.3, 11.5, 12.5, 12.0, 11.5, 11.5, 11.2, 12.3, 13.6, 14.5, 15.8, 15.3, 16.2, 16.0,
  15.8, 16.0, 16.4, 16.5, 16.2, 16.0, 15.5, 15.1, 9.0, 2.8, 2.4, 11.0, 12.3, 11.7, 11.5, 12.2, 11.7, 12.8, 14.1, 15.6, 16.6, 16.2, 17.1, 16.5,
  16.5, 17.5, 17.6, 16.4, 17.3, 16.8, 16.0, 14.0, 7.0, 3.2, 2.8, 12.5, 13.8, 13.4, 13.6, 13.2, 12.8, 13.8, 14.3, 15.6, 16.2, 15.1, 16.4, 16.3,
  16.3, 15.8, 16.3, 16.0, 15.8, 15.5, 14.8, 14.5, 8.0, 2.8, 2.4, 11.0, 12.1, 11.7, 11.5, 11.9, 11.5, 12.8, 13.6, 14.5, 15.3, 15.8, 15.6, 16.2,
  16.2, 15.7, 15.9, 16.1, 15.8, 15.3, 14.5, 13.8, 8.0, 2.8, 2.3, 10.5, 11.9, 11.7, 11.5, 11.5, 10.8, 12.8, 13.2, 13.6, 14.5,
  15.5
];
const wmpUpperB = [
  6.5, 3.0, 0.5, 7.5, 6.0, 5.0, 6.0, 11.0, 4.0, 8.5, 2.2, 9.5, 3.0, 0.3, 9.5, 3.0, 8.5, 4.5, 1.5, 6.5, 7.5, 1.5, 7.0, 2.0,
  8.0, 0.8, 8.0, 3.5, 10.0, 9.5, 6.5, 9.0, 10.3, 2.8, 6.5, 9.0, 5.5, 5.2, 5.0, 5.3, 5.0, 4.9, 5.2, 5.8, 5.5, 5.4, 5.2, 5.0,
  5.3, 5.5, 5.8, 5.5, 5.2, 5.6, 5.8, 5.2, 5.0, 2.0, 1.7, 4.8, 5.0, 5.2, 5.5, 5.0, 5.8, 5.2, 6.0, 6.2, 6.5, 6.8, 7.0, 6.8,
  6.8, 7.0, 6.8, 7.1, 7.0, 7.2, 7.0, 6.8, 6.0, 2.0, 1.7, 4.8, 5.5, 6.0, 6.5, 6.3, 6.5, 6.2, 6.3, 6.8, 7.0, 6.8, 7.2, 7.0,
  7.2, 6.8, 7.2, 7.0, 7.2, 7.5, 7.7, 7.6, 5.0, 2.0, 1.7, 5.5, 6.2, 6.3, 6.5, 6.2, 5.8, 5.5, 6.0, 6.5, 6.8, 7.0, 6.8, 7.0,
  7.0, 7.2, 7.3, 7.0, 7.1, 7.5, 7.6, 7.4, 5.0, 2.0, 1.8, 5.0, 5.4, 5.3, 5.5, 5.4, 5.4, 5.5, 5.8, 6.9, 7.3, 7.8, 8.0, 8.5,
  9.0, 9.3, 9.7, 9.8, 10.1, 10.0, 9.9, 9.8, 7.0, 2.1, 1.8, 6.5, 7.0, 7.2, 7.5, 7.3, 7.6, 7.8, 8.0, 8.8, 9.5, 10.0, 9.7, 9.9,
  9.7, 10.0, 10.1, 9.8, 10.0, 10.1, 9.9, 9.8, 7.0, 2.2, 1.9, 6.5, 7.0, 7.3, 7.5, 7.2, 7.0, 6.5, 7.2, 8.5, 9.0, 8.8, 9.2, 9.0,
  9.3, 9.5, 9.3, 9.8, 9.6, 9.8, 9.5, 9.3, 6.5, 2.1, 1.8, 6.5, 7.2, 7.4, 7.5, 7.8, 7.5, 8.0, 8.5, 8.8, 9.2, 9.3, 9.5, 9.7,
  9.8, 10.0, 9.7, 9.8, 9.5, 9.3, 9.3, 9.0, 6.5, 2.1, 1.8, 6.5, 7.0, 7.3, 7.8, 7.5, 7.2, 7.8, 8.5, 9.0, 9.5, 9.7, 10.0, 9.8,
  9.7, 9.9, 10.0, 9.8, 9.7, 9.6, 9.4, 9.2, 6.5, 2.0, 1.8, 6.5, 7.0, 7.3, 7.6, 7.4, 7.6, 8.2, 8.6, 9.0, 9.3, 9.8, 10.0, 10.1,
  10.1, 9.9, 10.0, 10.1, 10.0, 9.8, 9.6, 9.4, 6.5, 2.0, 1.8, 6.5, 7.0, 7.3, 7.5, 7.2, 7.5, 8.0, 8.3, 8.8, 9.3, 9.8, 10.0, 9.9,
  10.0, 9.9, 9.9, 10.0, 9.8, 9.8, 9.6, 9.5, 6.5, 2.0, 1.8, 6.5, 7.2, 7.4, 7.5, 7.3, 7.5, 8.0, 8.5, 9.0, 9.3, 9.8, 9.9, 10.0,
  10.0, 10.1, 10.2, 10.0, 10.1, 9.9, 9.8, 9.6, 6.5, 2.0, 1.8, 6.5, 7.3, 7.4, 7.8, 7.6, 7.8, 8.5, 9.0, 9.5, 9.8, 10.2, 10.3, 10.5,
  10.5, 10.8, 11.0, 11.2, 11.2, 10.9, 10.5, 10.2, 6.5, 2.0, 1.8, 7.0, 8.5, 8.4, 8.3, 8.0, 7.5, 8.5, 8.8, 9.3, 9.5, 9.5, 9.8, 10.0,
  10.0, 10.1, 10.2, 10.1, 10.0, 9.8, 9.5, 9.3, 6.5, 2.0, 1.8, 6.5, 7.2, 7.0, 7.1, 7.3, 7.6, 8.0, 8.5, 9.0, 9.5, 9.6, 9.8, 9.8,
  10.0, 10.0, 9.9, 9.9, 9.7, 9.5, 9.3, 9.0, 6.5, 2.0, 1.8, 6.5, 7.3, 7.3, 7.2, 7.1, 7.0, 7.5, 8.0, 8.3, 8.8,
  9.3
];

// ---------------------------------------------------------------
// (d) Treated effluent discharge - monthly, kg/d (last value = final record)
// ---------------------------------------------------------------
const effluentLowerA = [
  50, 57, 58, 62, 63, 58, 60, 63, 65, 66, 68, 69,
  71, 84, 87, 85, 82, 83, 84, 85, 86, 87, 89, 90,
  92, 92, 93, 93, 92, 87, 88, 95, 98, 102, 106, 109,
  111, 122, 124, 125, 121, 117, 119, 120, 120, 120, 122, 136,
  136, 137, 140, 145, 149, 136, 140, 155, 158, 160, 160, 161,
  161, 156, 162, 165, 150, 142, 138, 145, 148, 150, 160, 175,
  185, 198, 196, 194, 170, 158, 155, 160, 165, 166, 166, 172,
  177, 178, 179, 180, 172, 164, 158, 156, 153, 150, 160, 170,
  175, 180, 180, 179, 165, 155, 154, 154, 155, 156, 160, 170,
  177, 178, 179, 179, 165, 154, 154, 153, 153, 153, 160, 172,
  177, 179, 180, 182, 168, 157, 157, 156, 156, 156, 165, 175,
  179, 180, 181, 182, 168, 155, 155, 154, 154, 154, 162, 175,
  180, 181, 182, 182, 168, 155, 155, 155, 154, 154, 162, 175,
  180, 181, 182, 183, 170, 157, 157, 156, 156, 156, 170, 195,
  211, 211, 210, 204, 203, 206, 207, 209, 190, 193, 196, 196,
  196, 196, 196, 196, 180, 165, 165, 166, 167, 172, 185, 192,
  194, 194, 194, 194, 180, 164, 164, 164, 164, 164, 172,
  150
];
const effluentLowerB = [
  43, 45, 47, 48, 46, 40, 42, 44, 46, 48, 50, 52,
  53, 56, 58, 56, 55, 56, 57, 58, 59, 61, 62, 64,
  65, 66, 67, 67, 64, 60, 61, 62, 65, 69, 74, 80,
  84, 84, 84, 83, 82, 80, 78, 78, 79, 80, 85, 88,
  89, 91, 93, 95, 97, 89, 92, 97, 100, 102, 103, 104,
  105, 103, 101, 105, 100, 94, 96, 97, 98, 99, 103, 110,
  120, 128, 127, 126, 115, 103, 101, 100, 100, 103, 108, 111,
  114, 114, 113, 112, 106, 101, 100, 99, 95, 94, 100, 106,
  109, 112, 114, 112, 105, 100, 99, 97, 97, 100, 104, 110,
  114, 114, 113, 112, 105, 99, 99, 99, 99, 99, 104, 110,
  114, 114, 114, 114, 105, 99, 99, 99, 99, 99, 104, 110,
  114, 113, 112, 111, 104, 97, 97, 98, 99, 99, 104, 108,
  112, 112, 111, 111, 104, 97, 98, 98, 99, 99, 104, 108,
  112, 112, 112, 112, 104, 97, 97, 97, 97, 97, 110, 120,
  131, 132, 132, 128, 125, 126, 126, 121, 121, 123, 122, 122,
  122, 123, 123, 123, 111, 101, 102, 104, 104, 114, 118, 120,
  122, 122, 122, 122, 112, 104, 104, 103, 103, 102, 105,
  87
];
const effluentUpperA = [
  50, 60, 62, 66, 65, 58, 62, 66, 70, 70, 71, 73,
  75, 84, 88, 89, 87, 88, 89, 90, 91, 92, 93, 94,
  94, 96, 98, 99, 99, 95, 108, 114, 122, 126, 138, 150,
  165, 180, 182, 183, 183, 181, 179, 177, 174, 177, 180, 199,
  204, 206, 209, 220, 231, 214, 223, 262, 258, 253, 255, 256,
  257, 292, 270, 304, 267, 240, 245, 253, 252, 250, 282, 320,
  380, 402, 399, 385, 350, 328, 328, 332, 335, 335, 335, 345,
  357, 377, 380, 382, 355, 340, 331, 331, 318, 301, 316, 330,
  340, 365, 367, 367, 335, 315, 309, 309, 310, 311, 313, 340,
  365, 368, 370, 370, 345, 312, 309, 311, 313, 311, 330, 355,
  370, 372, 374, 375, 345, 316, 316, 316, 317, 319, 335, 355,
  377, 378, 379, 380, 350, 317, 317, 317, 317, 317, 330, 350,
  379, 380, 382, 382, 350, 321, 321, 321, 321, 321, 335, 355,
  382, 383, 384, 387, 355, 323, 323, 323, 323, 323, 340, 375,
  413, 415, 416, 385, 374, 374, 380, 399, 367, 374, 385, 395,
  411, 411, 411, 411, 370, 335, 333, 334, 335, 340, 370, 385,
  399, 400, 401, 401, 365, 331, 330, 329, 328, 328, 345,
  267
];
const effluentUpperB = [
  36, 43, 45, 47, 45, 40, 43, 45, 47, 48, 50, 51,
  52, 62, 65, 63, 62, 61, 60, 61, 62, 63, 65, 66,
  68, 69, 70, 71, 69, 69, 73, 77, 80, 86, 92, 100,
  106, 120, 122, 122, 121, 117, 116, 115, 114, 114, 117, 128,
  131, 134, 138, 145, 150, 136, 145, 170, 168, 165, 168, 172,
  174, 187, 177, 200, 179, 157, 160, 165, 172, 177, 188, 210,
  240, 257, 252, 250, 226, 212, 209, 209, 210, 210, 214, 220,
  228, 240, 242, 243, 235, 214, 209, 207, 205, 190, 206, 215,
  222, 230, 233, 232, 205, 197, 195, 194, 194, 195, 196, 210,
  228, 232, 234, 233, 215, 196, 194, 194, 195, 199, 203, 212,
  228, 233, 236, 236, 215, 199, 199, 199, 199, 199, 210, 220,
  233, 236, 238, 237, 220, 201, 201, 201, 200, 200, 210, 225,
  236, 237, 238, 238, 220, 199, 199, 199, 200, 200, 210, 225,
  238, 239, 240, 240, 220, 201, 201, 201, 201, 201, 225, 245,
  257, 257, 257, 236, 233, 233, 240, 245, 226, 235, 243, 250,
  255, 255, 255, 255, 238, 209, 207, 206, 206, 215, 228, 240,
  248, 249, 250, 249, 225, 209, 207, 206, 205, 204, 212,
  189
];

// ---------------------------------------------------------------
// Panel layout (pixel frames of the four plot areas)
// ---------------------------------------------------------------
const panels = [
  { caption: captions[0], frame: { left: 95.3, right: 829.3, top: 44, bottom: 352 },
    yMax: 450, yTicks: loadTicks, times: monthlyTimes,
    series: [sumpLowerA, sumpLowerB, sumpUpperA, sumpUpperB] },
  { caption: captions[1], frame: { left: 973.7, right: 1707.7, top: 44, bottom: 352 },
    yMax: 20, yTicks: smallTicks, times: halfMonthTimes,
    series: [pileLowerA, pileLowerB, pileUpperA, pileUpperB] },
  { caption: captions[2], frame: { left: 95.3, right: 829.3, top: 505, bottom: 813 },
    yMax: 20, yTicks: smallTicks, times: halfMonthTimes,
    series: [wmpLowerA, wmpLowerB, wmpUpperA, wmpUpperB] },
  { caption: captions[3], frame: { left: 973.7, right: 1707.7, top: 505, bottom: 813 },
    yMax: 450, yTicks: loadTicks, times: monthlyTimes,
    series: [effluentLowerA, effluentLowerB, effluentUpperA, effluentUpperB] }
];

const svg = d3.select("#fig");
const TICK_FONT = 17, TITLE_FONT = 16.5, LEGEND_FONT = 14.5, CAPTION_FONT = 24;
const LINE_W = 2.5, DASH = "9,6";

panels.forEach((p, pi) => {
  const f = p.frame;
  const g = svg.append("g").attr("class", "panel panel-" + pi);

  const x = d3.scaleLinear().domain([yearStart, yearEnd]).range([f.left, f.right]);
  const y = d3.scaleLinear().domain([0, p.yMax]).range([f.bottom, f.top]);

  // horizontal gridlines
  g.append("g").selectAll("line")
    .data(p.yTicks.filter(t => t > 0 && t < p.yMax))
    .join("line")
      .attr("x1", f.left).attr("x2", f.right)
      .attr("y1", d => y(d)).attr("y2", d => y(d))
      .attr("stroke", "#b4b4b4").attr("stroke-width", 1)
      .attr("stroke-dasharray", "1.2,1.8");

  // dotted plot-area border (top and right)
  g.append("path")
    .attr("d", `M${f.left},${y(p.yMax)}H${f.right}V${f.bottom}`)
    .attr("fill", "none").attr("stroke", "#3a3a3a").attr("stroke-width", 1)
    .attr("stroke-dasharray", "1,1");

  // data lines
  const clipId = "clip-" + pi;
  g.append("clipPath").attr("id", clipId).append("rect")
    .attr("x", f.left).attr("y", f.top - 2)
    .attr("width", f.right - f.left + 1).attr("height", f.bottom - f.top + 2);

  const line = d3.line().x(d => x(d[0])).y(d => y(d[1]));
  const lines = g.append("g").attr("clip-path", `url(#${clipId})`);
  p.series.forEach((vals, si) => {
    const n = Math.min(vals.length, p.times.length);
    const pts = d3.range(n).map(i => [p.times[i], vals[i]]);
    lines.append("path")
      .datum(pts)
      .attr("d", line)
      .attr("fill", "none")
      .attr("stroke", seriesColors[si])
      .attr("stroke-width", LINE_W)
      .attr("stroke-linejoin", "round")
      .attr("stroke-dasharray", seriesDashed[si] ? DASH : null);
  });

  // axes
  const yAxis = g.append("g")
    .attr("transform", `translate(${f.left},0)`)
    .call(d3.axisLeft(y).tickValues(p.yTicks).tickSize(5).tickSizeOuter(0).tickPadding(10).tickFormat(d3.format("d")));
  const xAxis = g.append("g")
    .attr("transform", `translate(0,${f.bottom})`)
    .call(d3.axisBottom(x).tickValues(yearTicks).tickSize(5).tickSizeOuter(0).tickPadding(10).tickFormat(d3.format("d")));

  [yAxis, xAxis].forEach(ax => {
    ax.select(".domain").attr("stroke", "#000").attr("stroke-width", 1.5);
    ax.selectAll(".tick line").attr("stroke", "#000").attr("stroke-width", 1);
    ax.selectAll(".tick text")
      .attr("fill", "#000")
      .style("font-size", TICK_FONT + "px")
      .style("font-family", '"Liberation Sans", Arial, sans-serif');
  });

  // axis titles
  let labelW = 0;
  yAxis.selectAll(".tick text").each(function () { labelW = Math.max(labelW, this.getComputedTextLength()); });
  const titleX = f.left - 15 - labelW - 15.5;
  const midY = (f.top + f.bottom) / 2;
  g.append("text")
    .attr("transform", `translate(${titleX},${midY}) rotate(-90)`)
    .attr("text-anchor", "middle").attr("dy", "0.36em")
    .style("font-size", TITLE_FONT + "px").style("font-weight", "bold")
    .text(yTitle);

  const midX = (f.left + f.right) / 2;
  g.append("text")
    .attr("x", midX).attr("y", f.bottom + 51)
    .attr("text-anchor", "middle")
    .style("font-size", TITLE_FONT + "px").style("font-weight", "bold")
    .text(xTitle);

  // caption under the panel
  g.append("text")
    .attr("x", midX - 48).attr("y", f.bottom + 91)
    .attr("text-anchor", "middle")
    .style("font-size", CAPTION_FONT + "px")
    .text(p.caption);

  // legend above the panel
  const legY = f.top - 30.7;
  let lx = f.left - 87;
  const leg = g.append("g").attr("class", "legend");
  seriesNames.forEach((name, si) => {
    leg.append("line")
      .attr("x1", lx).attr("x2", lx + 37)
      .attr("y1", legY).attr("y2", legY)
      .attr("stroke", seriesColors[si]).attr("stroke-width", LINE_W)
      .attr("stroke-dasharray", seriesDashed[si] ? "7,6" : null);
    const t = leg.append("text")
      .attr("x", lx + 41).attr("y", legY).attr("dy", "0.35em")
      .style("font-size", LEGEND_FONT + "px")
      .text(name);
    lx += 41 + t.node().getComputedTextLength() + 13;
  });
});
</script>
</body>
</html>
